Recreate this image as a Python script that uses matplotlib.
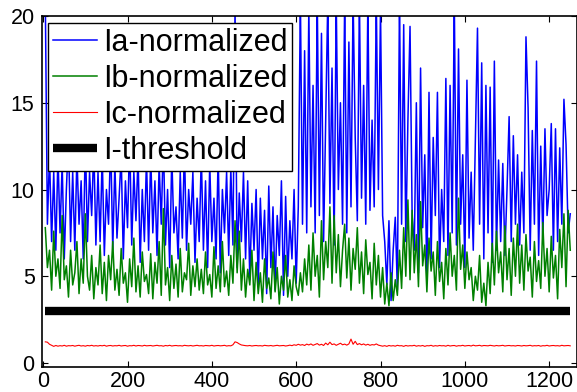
import matplotlib
matplotlib.use("Agg")
import matplotlib.pyplot as plt
import numpy as np

plt.rcParams["font.family"] = ["Liberation Sans", "DejaVu Sans"]

# sample positions (every 5 samples)
x = np.arange(5, 1255, 5)

ia = [
    21, 8, 12, 7, 11, 6.5, 12, 7.5, 11.5, 6, 10, 13, 7, 11, 6.5, 12, 8, 10.5, 6, 13, 7, 11, 8.5, 12.5, 6.8,
    11, 7, 12, 6.2, 10, 8, 13, 6.5, 11.5, 7.2, 9.5, 12, 6, 10.5, 7.8, 13, 6.8, 11, 8.2, 12, 5.8, 10, 7, 11.8, 6.5,
    12, 7.5, 10.5, 6.2, 11.5, 8, 13, 6.8, 10, 5.5, 12, 7.5, 9, 6, 11, 7.2, 12.5, 6.5, 10, 8, 11, 5.8, 9.5, 7, 12,
    6.5, 10.5, 5.5, 11.5, 7, 9.5, 6, 12, 5.2, 10, 7.5, 11, 6.2, 11.2, 6.8, 20.5, 5.5, 9.8, 7, 11, 6, 10.5, 4.8, 9.2, 6.5,
    10, 4.5, 9.5, 6, 8.8, 4, 10.2, 5.5, 9, 4.2, 8.5, 6.2, 10.5, 3.9, 9.6, 5, 8.2, 6, 10, 4.6, 9, 21, 8, 18, 7.5,
    20.5, 9, 16, 7.5, 21, 8.5, 19, 7, 14, 21, 9.2, 17, 6.8, 21, 10, 15, 8, 21, 7.5, 18.5, 9, 21, 13, 8.2, 21,
    9.5, 16, 8, 21, 8.8, 14, 9, 21, 10, 20.5, 8.5, 7, 4.5, 8.2, 3.6, 6.5, 8.4, 4.2, 21, 8, 19.5, 7, 14, 19.4, 8.5,
    6.5, 15, 5.2, 17, 7.8, 12, 4.8, 15.6, 6, 13, 8.5, 15.6, 5.5, 10, 7, 16.4, 6.2, 16, 7.5, 21, 6.8, 18.1, 8, 12, 5.5,
    16.3, 7.2, 11, 6.5, 13, 19.3, 8, 17.3, 6, 16, 7.5, 15.9, 5.8, 17.4, 6.5, 11.7, 7, 11.5, 6.2, 10, 14.2, 7, 13.1, 8, 12,
    6.8, 11, 7.5, 18.8, 14.7, 6.5, 13.4, 8, 17.4, 6.2, 12.5, 7, 13.5, 8.5, 10, 13.8, 6.5, 13.5, 7, 12.4, 8, 15.2, 12.6, 7.5, 8.6,
]

ib = [
    7.8, 5.5, 6.5, 4.2, 7.6, 5, 6, 4.3, 8.5, 4.8, 5.6, 3.8, 6.5, 4.5, 5.2, 7, 4, 6, 4.6, 8.6, 5, 4.2, 6.2, 3.7, 5.5,
    4.5, 6.8, 4, 5.8, 3.6, 6.2, 4.8, 7, 4.2, 5.4, 3.9, 6.6, 4.6, 5.2, 3.5, 6, 4.4, 7.2, 4.1, 5.6, 3.8, 6.4, 4.7, 5.1, 4,
    6.3, 3.7, 5.8, 4.6, 7, 3.9, 8.9, 4.5, 5.5, 3.6, 6.2, 4.3, 5.7, 3.8, 6.6, 4.1, 5.2, 4.8, 6.9, 3.9, 5.6, 4.4, 6, 4.2, 5.4,
    4, 6.4, 4.5, 5.1, 3.8, 6.7, 4.3, 5.6, 4.1, 7, 4.4, 5.3, 3.9, 6.2, 4.6, 8.2, 5.2, 7.6, 4.2, 6, 3.8, 5.4, 4.5, 6.5, 3.6,
    5.8, 4, 5.2, 3.5, 6, 4.3, 4.9, 3.7, 6.4, 4.1, 5.5, 3.4, 5, 4.2, 6.2, 3.8, 4.8, 3.6, 5.6, 4.4, 3.9, 5.2, 4.1, 6, 4.5,
    6.8, 4.2, 7.5, 5, 6.2, 3.8, 8.2, 4.8, 7, 5.5, 9, 4.6, 8.5, 5.2, 7.4, 4.4, 6.5, 8, 4.9, 7.2, 4.2, 6.6, 5.4, 7.8, 4.6,
    6.4, 4, 7.1, 5.1, 5.8, 3.7, 6.9, 4.5, 6.2, 3.8, 5.5, 3.4, 4.6, 3.3, 5.2, 3.6, 4.8, 3.9, 6.5, 4.3, 7.8, 5, 9.4, 4.8, 8.8,
    5.2, 7.4, 4.4, 9.3, 5.6, 6.8, 4.1, 7.2, 5.3, 6.4, 3.9, 7, 4.7, 5.8, 3.7, 6.6, 4.5, 7.5, 5, 6.2, 4.2, 9.5, 5.4, 6.8, 4.3,
    6.4, 4.8, 5.5, 3.6, 5, 4.2, 6.2, 3.5, 4.6, 3.3, 5.8, 4, 6.9, 4.5, 7.6, 5.2, 6.4, 4.1, 7.9, 4.8, 6.6, 3.9, 7.2, 5, 8,
    4.6, 6.8, 4.2, 7.4, 5.3, 6.1, 3.8, 7, 4.7, 5.9, 4.3, 8.1, 5, 6.6, 4.1, 7.3, 4.9, 6.2, 3.7, 7.7, 5.5, 8.6, 4.4, 8.8, 6.5,
]

ic = [
    1.22, 1.2, 1.08, 1.02, 0.96, 1.01, 0.97, 1.0, 0.98, 1.02, 0.97, 1.0, 0.99, 1.01, 0.97, 1.0, 1.02, 0.98, 1.0, 0.97, 1.01, 0.99, 1.02, 0.98, 1.0,
    0.98, 1.01, 0.99, 1.02, 0.97, 1.0, 1.01, 0.98, 1.0, 0.99, 1.02, 0.98, 1.0, 1.01, 0.97, 1.0, 0.99, 1.02, 0.98, 1.01, 1.0, 0.98, 1.02, 0.99, 1.0,
    1.01, 0.98, 1.0, 1.02, 0.99, 1.0, 0.97, 1.01, 0.99, 1.02, 0.98, 1.0, 1.01, 0.99, 1.0, 0.98, 1.02, 1.0, 0.99, 1.01, 0.98, 1.0, 1.02, 0.99, 1.0,
    0.98, 1.01, 1.0, 0.99, 1.02, 0.98, 1.0, 1.01, 0.99, 1.0, 1.02, 0.98, 1.0, 0.99, 1.05, 1.22, 1.18, 1.1, 1.04, 1.02, 1.0, 0.99, 1.01, 0.98, 1.0,
    1.01, 0.99, 1.0, 0.98, 1.02, 1.0, 0.99, 1.01, 0.98, 1.0, 1.02, 0.99, 1.0, 1.01, 0.98, 1.0, 1.03, 1.0, 1.05, 1.02, 1.08, 1.03, 1.06, 1.01, 1.09,
    1.04, 1.1, 1.02, 1.07, 1.12, 1.03, 1.08, 1.01, 1.15, 1.05, 1.2, 1.06, 1.1, 1.02, 1.08, 1.14, 1.05, 1.09, 1.03, 1.1, 1.38, 1.08, 1.25, 1.06, 1.12,
    1.05, 1.1, 1.03, 1.08, 1.02, 1.06, 1.04, 1.1, 1.03, 1.0, 0.97, 1.0, 0.96, 1.01, 0.98, 1.0, 0.97, 1.02, 0.99, 1.0, 0.96, 1.01, 0.98, 1.0, 0.99,
    1.02, 0.97, 1.0, 0.98, 1.01, 0.96, 1.0, 0.99, 1.02, 0.97, 1.0, 0.98, 1.01, 0.99, 1.0, 0.97, 1.02, 0.98, 1.0, 1.01, 0.97, 1.0, 0.99, 1.02, 0.98,
    1.0, 1.01, 0.98, 1.03, 0.99, 1.0, 1.02, 0.98, 1.01, 1.0, 0.99, 1.02, 1.0, 0.98, 1.01, 0.99, 1.0, 1.02, 0.98, 1.0, 1.01, 0.99, 1.0, 0.98, 1.01,
    1.0, 0.98, 1.01, 0.99, 1.0, 1.02, 0.98, 1.0, 0.99, 1.01, 0.97, 1.0, 0.99, 1.02, 0.98, 1.0, 1.01, 0.99, 1.0, 0.98, 1.02, 0.99, 1.0, 1.01, 0.99,
]

thr_x = [5, 1250]
thr_y = [3.0, 3.0]

fig = plt.figure(figsize=(5.77, 3.92), dpi=100)
ax = fig.add_axes([41.5 / 577, 1 - 367 / 392, 535.5 / 577, 351 / 392])

ax.plot(x, ia, color=(0, 0, 1), lw=1.1, label="Ia-normalized")
ax.plot(x, ib, color=(0, 0.5, 0), lw=1.1, label="Ib-normalized")
ax.plot(x, ic, color=(1, 0, 0), lw=0.8, label="Ic-normalized")
ax.plot(thr_x, thr_y, color="k", lw=6, solid_capstyle="butt", label="I-threshold")

ax.set_xlim(-4, 1266)
ax.set_ylim(-0.23, 20)
ax.set_xticks(range(0, 1201, 200))
ax.set_yticks(range(0, 21, 5))
ax.tick_params(direction="in", top=True, right=True, labelsize=15.5, length=4, pad=3)
ax.tick_params(axis="y", pad=5)
for s in ax.spines.values():
    s.set_linewidth(1.2)

leg = ax.legend(loc="upper left", bbox_to_anchor=(0.0121, 0.98), borderaxespad=0,
                fontsize=22, fancybox=False, framealpha=1, edgecolor="k",
                handlelength=1.45, handletextpad=0.2, labelspacing=0.2,
                borderpad=0.15)
leg.get_frame().set_linewidth(1.0)

fig.savefig("out.png", dpi=100)
